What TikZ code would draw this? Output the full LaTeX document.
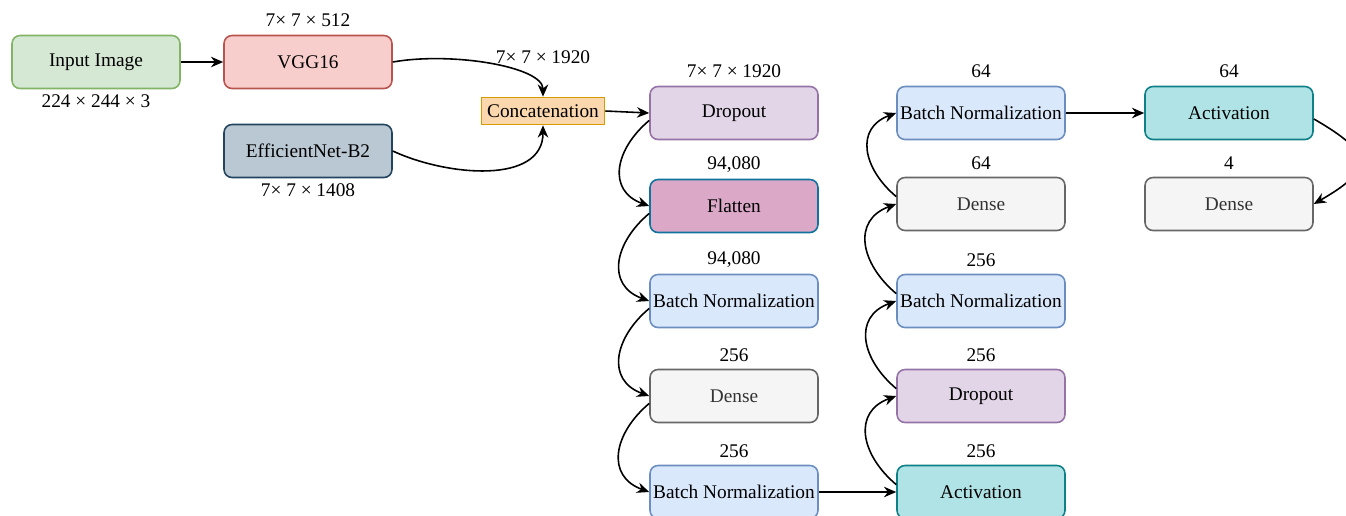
\documentclass[tikz,border=0pt]{standalone}
\usepackage{fontspec}
\setmainfont{Liberation Serif}
\usetikzlibrary{arrows.meta,positioning}

\definecolor{inFill}{HTML}{D5E8D4}\definecolor{inLine}{HTML}{82B366}
\definecolor{vggFill}{HTML}{F8CECC}\definecolor{vggLine}{HTML}{B85450}
\definecolor{effFill}{HTML}{BAC8D3}\definecolor{effLine}{HTML}{23445D}
\definecolor{catFill}{HTML}{FAD7AC}\definecolor{catLine}{HTML}{D79B00}
\definecolor{dropFill}{HTML}{E1D5E7}\definecolor{dropLine}{HTML}{9673A6}
\definecolor{flatFill}{HTML}{DBA8C8}\definecolor{flatLine}{HTML}{10739E}
\definecolor{bnFill}{HTML}{DAE8FC}\definecolor{bnLine}{HTML}{6C8EBF}
\definecolor{denseFill}{HTML}{F5F5F5}\definecolor{denseLine}{HTML}{666666}
\definecolor{actFill}{HTML}{B0E3E6}\definecolor{actLine}{HTML}{0E8088}

\tikzset{
	x=0.02cm, y=-0.02cm,
	block/.style={draw, rounded corners=0.16cm, line width=0.9pt, minimum width=3.36cm,
		minimum height=1.06cm, inner sep=1pt, font=\fontsize{11pt}{13pt}\selectfont},
	inbox/.style={block, fill=inFill, draw=inLine},
	vggbox/.style={block, fill=vggFill, draw=vggLine},
	effbox/.style={block, fill=effFill, draw=effLine},
	catbox/.style={draw=catLine, fill=catFill, line width=0.9pt, minimum width=2.46cm,
		minimum height=0.54cm, inner sep=1pt, font=\fontsize{11pt}{13pt}\selectfont},
	dropbox/.style={block, fill=dropFill, draw=dropLine},
	flatbox/.style={block, fill=flatFill, draw=flatLine},
	bnbox/.style={block, fill=bnFill, draw=bnLine},
	densebox/.style={block, fill=denseFill, draw=denseLine, text=black!80},
	actbox/.style={block, fill=actFill, draw=actLine},
	dim/.style={inner sep=0pt, font=\fontsize{11pt}{13pt}\selectfont},
	link/.style={line width=0.9pt, -{Stealth[length=7pt,width=6pt]}},
	down/.style={out=220, in=160, looseness=1.35},
	up/.style={out=140, in=200, looseness=1.35},
}

\begin{document}
\begin{tikzpicture}
			%%%%% START %%%%%
			\useasboundingbox (0,0) rectangle (1346,515);
			
			% backbones
			\node[inbox] (input) at (96,62) {Input Image};
			\node[vggbox] (vgg) at (308,62) {VGG16};
			\node[effbox] (effnet) at (308,151) {EfficientNet-B2};
			\node[catbox] (concat) at (543,111) {Concatenation};
			
			% first column
			\node[dropbox] (drop1) at (734,113) {Dropout};
			\node[flatbox] (flat) at (734,206) {Flatten};
			\node[bnbox] (bn1) at (734,301) {Batch Normalization};
			\node[densebox] (dense1) at (734,396) {Dense};
			\node[bnbox] (bn2) at (734,492) {Batch Normalization};
			
			% second column, read bottom up
			\node[actbox] (act2) at (981,492) {Activation};
			\node[dropbox] (drop2) at (981,396) {Dropout};
			\node[bnbox] (bn3) at (981,301) {Batch Normalization};
			\node[densebox] (dense2) at (981,204) {Dense};
			\node[bnbox] (bn4) at (981,113) {Batch Normalization};
			
			% head
			\node[actbox] (act3) at (1229,113) {Activation};
			\node[densebox] (dense3) at (1229,204) {Dense};
			
			% shapes
			\node[dim] (dimIn) at ([yshift=-0.24cm]input.south) {224 × 244 × 3};
			\node[dim] (dimVgg) at ([yshift=0.3cm]vgg.north) {7× 7 × 512};
			\node[dim] (dimEff) at ([yshift=-0.24cm]effnet.south) {7× 7 × 1408};
			\node[dim] (dimCat) at ([yshift=0.8cm]concat.north) {7× 7 × 1920};
			\node[dim] (dimDrop1) at ([yshift=0.3cm]drop1.north) {7× 7 × 1920};
			\node[dim] (dimFlat) at ([yshift=0.28cm]flat.north) {94,080};
			\node[dim] (dimBn1) at ([yshift=0.28cm]bn1.north) {94,080};
			\node[dim] (dimDense1) at ([yshift=0.28cm]dense1.north) {256};
			\node[dim] (dimBn2) at ([yshift=0.28cm]bn2.north) {256};
			\node[dim] (dimAct2) at ([yshift=0.28cm]act2.north) {256};
			\node[dim] (dimDrop2) at ([yshift=0.28cm]drop2.north) {256};
			\node[dim] (dimBn3) at ([yshift=0.28cm]bn3.north) {256};
			\node[dim] (dimDense2) at ([yshift=0.28cm]dense2.north) {64};
			\node[dim] (dimBn4) at ([yshift=0.3cm]bn4.north) {64};
			\node[dim] (dimAct3) at ([yshift=0.3cm]act3.north) {64};
			\node[dim] (dimDense3) at ([yshift=0.28cm]dense3.north) {4};
			
			% arrows
			\draw[link] (input) -- (vgg);
			\draw[link] (vgg.east) to[out=10, in=90, out looseness=1, in looseness=0.5] (concat.north);
			\draw[link] (effnet.east) to[out=-25, in=-90] (concat.south);
			\draw[link] (concat.east) -- (drop1.west);
			
			\draw[link] (drop1.185) to[down] (flat.west);
			\draw[link] (flat.185) to[down] (bn1.west);
			\draw[link] (bn1.185) to[down] (dense1.west);
			\draw[link] (dense1.185) to[down] (bn2.west);
			\draw[link] (bn2.east) -- (act2.west);
			
			\draw[link] (act2.175) to[up] (drop2.west);
			\draw[link] (drop2.175) to[up] (bn3.west);
			\draw[link] (bn3.175) to[up] (dense2.west);
			\draw[link] (dense2.175) to[up] (bn4.west);
			\draw[link] (bn4.east) -- (act3.west);
			\draw[link] (act3.-4) to[out=-30, in=30, looseness=2.1] (dense3.east);
			
			%%%%% END %%%%%
\end{tikzpicture}
\end{document}
